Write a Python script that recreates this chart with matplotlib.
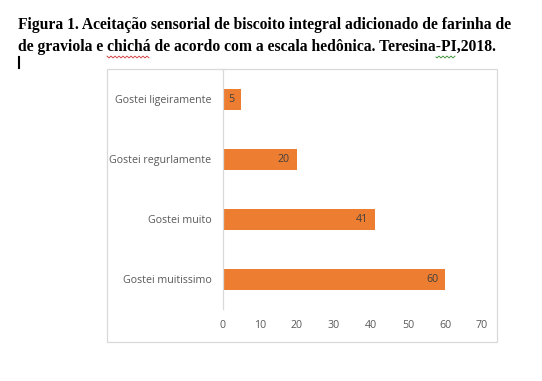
import matplotlib
matplotlib.use("Agg")
import matplotlib.pyplot as plt
import numpy as np
from matplotlib.patches import Rectangle
from matplotlib.lines import Line2D

categories = ["Gostei muitissimo", "Gostei muito", "Gostei regurlamente", "Gostei ligeiramente"]
values = [60, 41, 20, 5]
xticks = [0, 10, 20, 30, 40, 50, 60, 70]
title_line1 = "Figura 1. Aceitação sensorial de biscoito integral adicionado de farinha de"
title_line2 = "de graviola e chichá de acordo com a escala hedônica. Teresina-PI,2018."

W, H = 542, 381
fig = plt.figure(figsize=(W/100, H/100), dpi=100)
fig.patch.set_facecolor("white")

# chart frame
frame = Rectangle((107/W, 1-342/H), 390/W, 273/H, transform=fig.transFigure,
                  facecolor="white", edgecolor="#D9D9D9", lw=0.9, zorder=-5)
fig.add_artist(frame)

ax = fig.add_axes([222.7/W, 1-309.3/H, (482-222.7)/W, (309.3-69.3)/H])
ax.set_zorder(2)
ax.set_facecolor("none")
ypos = list(range(len(categories)))
ax.barh(ypos, values, height=0.345, color="#ED7D31", zorder=2)
ax.set_xlim(0, 70)
ax.set_ylim(-0.5, len(categories)-0.5)
ax.set_xticks(xticks)
ax.set_yticks(ypos)
ax.set_yticklabels(categories)
for lbl in ax.get_yticklabels() + ax.get_xticklabels():
    lbl.set_fontfamily("Open Sans")
    lbl.set_fontsize(7.7)
    lbl.set_color("#595959")
ax.tick_params(axis="y", length=0, pad=8)
ax.tick_params(axis="x", length=0, pad=8)
for s in ["top", "right", "bottom"]:
    ax.spines[s].set_visible(False)
ax.spines["left"].set_color("#D9D9D9")
ax.spines["left"].set_linewidth(0.9)

for y, v in zip(ypos, values):
    ax.annotate(str(v), (v, y), xytext=(-5, 0), textcoords="offset points",
                ha="right", va="center", fontfamily="Open Sans", fontsize=7.7, color="#404040")

fig.text(18/W, 1-25/H, title_line1, ha="left", va="center", fontfamily="Liberation Serif",
         fontweight="bold", fontsize=11.25, color="black")
fig.text(18/W, 1-47/H, title_line2, ha="left", va="center", fontfamily="Liberation Serif",
         fontweight="bold", fontsize=11.25, color="black")

# spell-check squiggles (decoration)
def squiggle(x0, x1, y, color):
    xs = np.linspace(x0, x1, int((x1 - x0) * 2))
    ys = y + 0.9 * np.sin(xs * 2 * np.pi / 4)
    fig.add_artist(Line2D(xs / W, 1 - ys / H, transform=fig.transFigure, color=color, lw=0.6))

squiggle(107, 149, 57, "#D03030")
squiggle(436, 455, 57, "#2E8B2E")

# text cursor
fig.add_artist(Line2D([19/W, 19/W], [1-57/H, 1-68/H], transform=fig.transFigure, color="black", lw=1.5))

fig.savefig("out.png", dpi=100)
